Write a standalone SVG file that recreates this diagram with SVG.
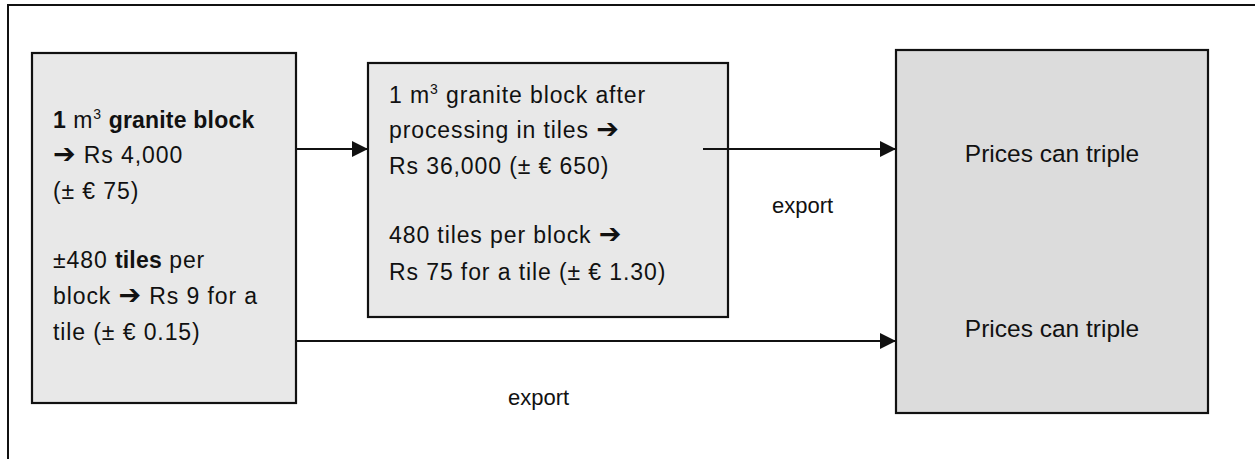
<svg xmlns="http://www.w3.org/2000/svg" width="1255" height="459" viewBox="0 0 1255 459">
<style>
.frame{fill:none;stroke:#111;stroke-width:2}
.box1{fill:#e8e8e8;stroke:#111;stroke-width:2.2}
.box3{fill:#dcdcdc;stroke:#111;stroke-width:2.2}
.conn{fill:none;stroke:#111;stroke-width:1.8}
.t{font-family:"Liberation Sans",Arial,sans-serif;font-size:23px;fill:#111;letter-spacing:0.9px}
.b{font-weight:bold;letter-spacing:0.2px}
.arr{font-family:"DejaVu Sans",sans-serif;font-weight:bold;font-size:27px}
.lbl{font-family:"Liberation Sans",Arial,sans-serif;font-size:22px;fill:#111}
.pr{font-family:"Liberation Sans",Arial,sans-serif;font-size:24.5px;fill:#111;text-anchor:middle}
</style>
<defs>
<marker id="ah" markerUnits="userSpaceOnUse" markerWidth="18" markerHeight="16" refX="16" refY="8" orient="auto">
<path d="M0,0 L16,8 L0,16 Z" fill="#111"/>
</marker>
</defs>
<path class="frame" d="M8,459 L8,5 L1255,5"/>
<g id="node-raw">
<rect class="box1" x="32" y="53" width="264" height="350"/>
<text class="t" x="53" y="128"><tspan class="b">1</tspan> m<tspan font-size="14" dy="-9">3</tspan><tspan dy="9" class="b"> granite block</tspan></text>
<text class="t" x="53" y="163"><tspan class="arr">➔</tspan> Rs 4,000</text>
<text class="t" x="53" y="199">(± € 75)</text>
<text class="t" x="53" y="268">±480 <tspan class="b">tiles</tspan> per</text>
<text class="t" x="53" y="304">block <tspan class="arr">➔</tspan> Rs 9 for a</text>
<text class="t" x="53" y="340">tile (± € 0.15)</text>
</g>
<g id="node-processed">
<rect class="box1" x="368" y="63" width="360" height="254"/>
<text class="t" x="389" y="103">1 m<tspan font-size="14" dy="-9">3</tspan><tspan dy="9"> granite block after</tspan></text>
<text class="t" x="389" y="138">processing in tiles <tspan class="arr">➔</tspan></text>
<text class="t" x="389" y="174">Rs 36,000 (± € 650)</text>
<text class="t" x="389" y="243">480 tiles per block <tspan class="arr">➔</tspan></text>
<text class="t" x="389" y="280">Rs 75 for a tile (± € 1.30)</text>
</g>
<g id="node-export">
<rect class="box3" x="896" y="50" width="312" height="363"/>
<text class="pr" x="1052" y="162">Prices can triple</text>
<text class="pr" x="1052" y="337">Prices can triple</text>
</g>
<g id="connectors">
<line class="conn" x1="296" y1="149" x2="368" y2="149" marker-end="url(#ah)"/>
<line class="conn" x1="703" y1="149" x2="896" y2="149" marker-end="url(#ah)"/>
<line class="conn" x1="296" y1="341" x2="896" y2="341" marker-end="url(#ah)"/>
<text class="lbl" x="772" y="213">export</text>
<text class="lbl" x="508" y="405">export</text>
</g>
</svg>
